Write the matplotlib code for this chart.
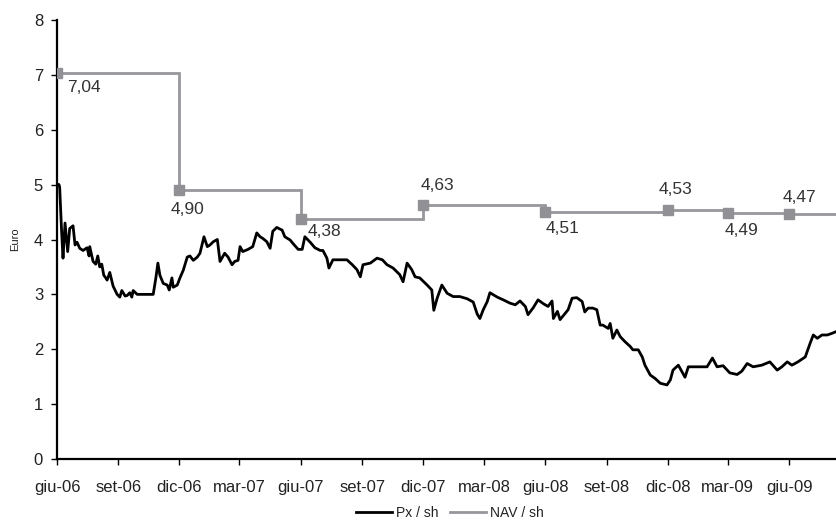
import numpy as np
import pandas as pd
import matplotlib
matplotlib.use("Agg")
import matplotlib.pyplot as plt
import matplotlib.dates as mdates
from matplotlib.lines import Line2D

plt.rcParams['font.family'] = ['Liberation Sans', 'DejaVu Sans']

# ---- data -------------------------------------------------------------
start = pd.Timestamp('2006-06-01')

# share price (Euro), sampled at day offsets from start
price_days = [0, 3, 4, 7, 9, 12, 16, 19, 24, 27, 30, 34, 39, 45, 48, 49, 54, 58, 61, 64,
              67, 70, 73, 75, 79, 84, 90, 94, 97, 102, 105, 109, 112, 114, 120, 144, 148, 151, 154, 159,
              165, 168, 172, 174, 180, 184, 189, 195, 199, 204, 210, 214, 220, 225, 229, 234, 240, 244, 251, 256,
              262, 266, 271, 274, 278, 286, 293, 299, 304, 308, 314, 319, 323, 329, 337, 341, 349, 353, 361, 367,
              371, 379, 386, 394, 398, 404, 407, 413, 424, 434, 442, 449, 454, 458, 469, 479, 487, 494, 503, 513,
              518, 524, 531, 536, 543, 554, 561, 564, 569, 576, 584, 593, 603, 614, 623, 629, 633, 638, 644, 648,
              659, 668, 678, 686, 693, 701, 705, 713, 720, 728, 735, 741, 743, 749, 753, 761, 765, 771, 778, 786,
              790, 795, 802, 808, 813, 817, 825, 828, 832, 838, 843, 850, 858, 862, 870, 876, 880, 888, 895, 903,
              913, 918, 922, 930, 940, 945, 955, 966, 973, 981, 988, 997, 1007, 1018, 1025, 1033, 1042, 1055, 1067, 1078,
              1085, 1093, 1100, 1109, 1120, 1127, 1132, 1138, 1145, 1153, 1160, 1166]
price_values = [5.01, 5.00, 4.95, 4.12, 3.66, 4.30, 3.78, 4.20, 4.25, 3.90, 3.95, 3.84, 3.80, 3.85, 3.70, 3.87, 3.60, 3.55, 3.70, 3.50,
                3.55, 3.35, 3.30, 3.26, 3.40, 3.15, 3.00, 2.95, 3.07, 2.97, 2.98, 3.03, 2.95, 3.07, 3.00, 3.00, 3.30, 3.57, 3.35, 3.20,
                3.17, 3.08, 3.30, 3.13, 3.17, 3.30, 3.44, 3.68, 3.70, 3.62, 3.68, 3.75, 4.05, 3.87, 3.90, 3.96, 4.00, 3.60, 3.75, 3.68,
                3.54, 3.60, 3.62, 3.87, 3.78, 3.82, 3.87, 4.12, 4.05, 4.02, 3.96, 3.84, 4.15, 4.22, 4.17, 4.05, 3.99, 3.93, 3.82, 3.82,
                4.05, 3.95, 3.85, 3.80, 3.80, 3.66, 3.48, 3.63, 3.63, 3.63, 3.54, 3.45, 3.32, 3.54, 3.57, 3.66, 3.63, 3.54, 3.48, 3.36,
                3.23, 3.57, 3.45, 3.32, 3.30, 3.17, 3.08, 2.71, 2.93, 3.17, 3.02, 2.96, 2.96, 2.92, 2.86, 2.64, 2.56, 2.72, 2.87, 3.03,
                2.95, 2.90, 2.84, 2.81, 2.88, 2.78, 2.63, 2.76, 2.90, 2.83, 2.78, 2.88, 2.56, 2.69, 2.54, 2.66, 2.72, 2.93, 2.94, 2.87,
                2.68, 2.75, 2.75, 2.72, 2.44, 2.44, 2.38, 2.47, 2.20, 2.35, 2.23, 2.14, 2.05, 1.99, 1.99, 1.86, 1.71, 1.53, 1.47, 1.38,
                1.35, 1.44, 1.62, 1.71, 1.49, 1.68, 1.68, 1.68, 1.68, 1.84, 1.68, 1.70, 1.57, 1.54, 1.60, 1.74, 1.68, 1.71, 1.77, 1.62,
                1.68, 1.77, 1.71, 1.77, 1.86, 2.10, 2.26, 2.20, 2.26, 2.26, 2.29, 2.32]

# net asset value per share at each reporting date
nav_dates = ['2006-06-01', '2006-12-01', '2007-06-01', '2007-12-01',
             '2008-06-01', '2008-12-01', '2009-03-01', '2009-06-01']
nav_values = [7.04, 4.90, 4.38, 4.63, 4.51, 4.53, 4.49, 4.47]
nav_labels = ['7,04', '4,90', '4,38', '4,63', '4,51', '4,53', '4,49', '4,47']
# label placement: (dx, dy) in points, horizontal alignment
nav_label_pos = [((7, -11), 'left'), ((6, -14), 'center'), ((5, -9), 'left'), ((-2, 14), 'left'),
                 ((0, -12), 'left'), ((6, 15), 'center'), ((10, -13), 'center'), ((7, 12), 'center')]

tick_dates = pd.date_range('2006-06-01', '2009-06-01', freq='3MS')
tick_labels = ['giu-06', 'set-06', 'dic-06', 'mar-07', 'giu-07', 'set-07', 'dic-07',
               'mar-08', 'giu-08', 'set-08', 'dic-08', 'mar-09', 'giu-09']

# ---- figure -----------------------------------------------------------
W, H = 836, 523
fig = plt.figure(figsize=(W / 100, H / 100), dpi=100)
ax = fig.add_axes([57 / W, 1 - 459 / H, 1 - 57 / W, (459 - 20) / H])

price_x = mdates.date2num([start + pd.Timedelta(days=d) for d in price_days])
nav_x = mdates.date2num(pd.to_datetime(nav_dates))
x_end = price_x[-1]

nav_grey = '#97979c'
# NAV as a step line held until the next valuation, extended to the end
ax.plot(np.append(nav_x, x_end), np.append(nav_values, nav_values[-1]),
        drawstyle='steps-post', color=nav_grey, lw=2.0, zorder=2, solid_joinstyle='miter')
ax.plot(nav_x, nav_values, ls='none', marker='s', ms=7.5, color='#909095', zorder=3)

ax.plot(price_x, price_values, color='black', lw=2.0, zorder=4)

for x, v, lab, ((dx, dy), ha) in zip(nav_x, nav_values, nav_labels, nav_label_pos):
    ax.annotate(lab, (x, v), xytext=(dx, dy), textcoords='offset points',
                ha=ha, va='center', fontsize=12.5, color='#333333', zorder=5)

ax.set_xlim(nav_x[0], x_end)
ax.set_ylim(0, 8)
ax.set_yticks(range(0, 9))
ax.set_xticks(mdates.date2num(tick_dates))
ax.set_xticklabels(tick_labels)

for side in ('top', 'right'):
    ax.spines[side].set_visible(False)
for side in ('left', 'bottom'):
    ax.spines[side].set_linewidth(1.6)
    ax.spines[side].set_color('black')

ax.tick_params(axis='y', direction='out', length=4, width=1, labelsize=12, colors='#222222', pad=6)
ax.tick_params(axis='x', direction='out', length=4, width=1, labelsize=12, colors='#222222', pad=11)
ax.tick_params(axis='both', color='black')

ax.set_ylabel('Euro', fontsize=8, color='#222222', labelpad=10)

handles = [Line2D([], [], color='black', lw=2.0), Line2D([], [], color=nav_grey, lw=2.0)]
fig.legend(handles, ['Px / sh', 'NAV / sh'], loc='center', bbox_to_anchor=(450 / W, 1 - 513 / H),
           ncol=2, frameon=False, fontsize=10, handlelength=2.6, handletextpad=0.3,
           columnspacing=0.8, labelcolor='#222222', borderpad=0.1)

fig.savefig('out.png', dpi=100)
